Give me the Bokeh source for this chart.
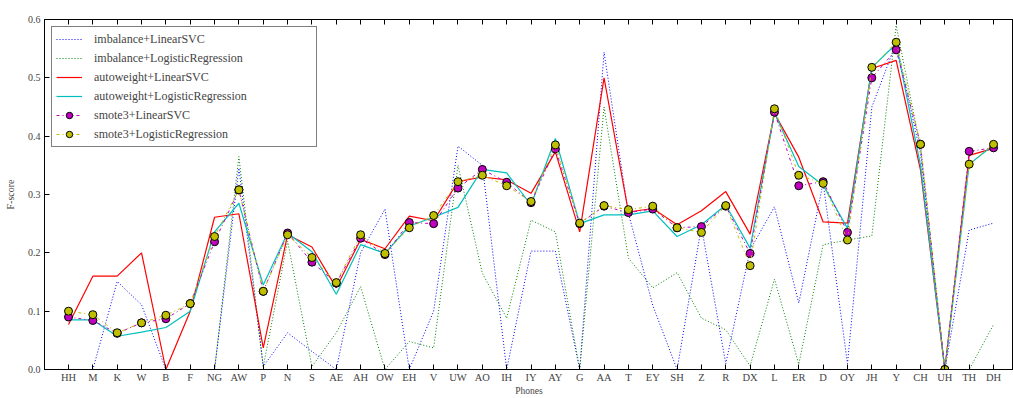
from bokeh.plotting import figure
from bokeh.models import FixedTicker, LinearAxis, Label, Range1d, PrintfTickFormatter
from bokeh.embed import file_html
from bokeh.resources import INLINE

phones = ["HH", "M", "K", "W", "B", "F", "NG", "AW", "P", "N", "S", "AE", "AH", "OW",
          "EH", "V", "UW", "AO", "IH", "IY", "AY", "G", "AA", "T", "EY", "SH", "Z", "R",
          "DX", "L", "ER", "D", "OY", "JH", "Y", "CH", "UH", "TH", "DH"]

imbalance_svc = [0.0, 0.0, 0.151, 0.111, 0.0, 0.0, 0.0, 0.345, 0.005, 0.063, 0.031, 0.0, 0.20,
                 0.275, 0.0, 0.10, 0.383, 0.35, 0.0, 0.203, 0.203, 0.0, 0.544, 0.268, 0.11,
                 0.0, 0.245, 0.01, 0.205, 0.279, 0.114, 0.32, 0.01, 0.45, 0.56, 0.37, 0.0,
                 0.239, 0.251]
imbalance_lr = [0.0, 0.0, 0.0, 0.0, 0.0, 0.0, 0.0, 0.365, 0.005, 0.22, 0.005, 0.063, 0.142,
                0.0, 0.048, 0.037, 0.35, 0.165, 0.088, 0.256, 0.236, 0.0, 0.45, 0.191, 0.14,
                0.166, 0.088, 0.068, 0.006, 0.155, 0.009, 0.214, 0.222, 0.229, 0.59, 0.38,
                0.0, 0.0, 0.077]
autoweight_svc = [0.077, 0.16, 0.16, 0.20, 0.0, 0.10, 0.261, 0.267, 0.037, 0.231, 0.21, 0.14,
                  0.223, 0.207, 0.263, 0.255, 0.322, 0.33, 0.325, 0.302, 0.373, 0.236, 0.50,
                  0.27, 0.276, 0.248, 0.272, 0.305, 0.232, 0.439, 0.364, 0.253, 0.251, 0.516,
                  0.53, 0.342, 0.0, 0.367, 0.379]
autoweight_lr = [0.085, 0.085, 0.057, 0.064, 0.072, 0.10, 0.236, 0.285, 0.145, 0.234, 0.202,
                 0.129, 0.214, 0.199, 0.246, 0.261, 0.278, 0.343, 0.337, 0.282, 0.396, 0.25,
                 0.265, 0.265, 0.272, 0.228, 0.248, 0.282, 0.208, 0.44, 0.348, 0.316, 0.242,
                 0.518, 0.558, 0.35, 0.0, 0.352, 0.385]
smote3_svc = [0.09, 0.084, 0.062, 0.08, 0.087, 0.113, 0.219, 0.308, 0.134, 0.234, 0.184, 0.148,
              0.225, 0.197, 0.252, 0.25, 0.311, 0.343, 0.321, 0.286, 0.378, 0.25, 0.28, 0.269,
              0.275, 0.243, 0.245, 0.28, 0.199, 0.441, 0.315, 0.322, 0.235, 0.50, 0.548,
              0.386, 0.0, 0.374, 0.38]
smote3_lr = [0.10, 0.094, 0.063, 0.08, 0.093, 0.113, 0.228, 0.308, 0.134, 0.231, 0.192, 0.149,
             0.231, 0.199, 0.243, 0.264, 0.322, 0.333, 0.315, 0.288, 0.385, 0.251, 0.281,
             0.274, 0.28, 0.243, 0.235, 0.281, 0.178, 0.447, 0.333, 0.319, 0.222, 0.518,
             0.561, 0.386, 0.0, 0.352, 0.386]

y_ticks = [0.0, 0.1, 0.2, 0.3, 0.4, 0.5, 0.6]

x = list(range(len(phones)))
SERIF = "Liberation Serif"

x0, x1 = -0.986, 38.82
p = figure(width=1013, height=398, output_backend="svg", toolbar_location=None,
           x_range=Range1d(x0, x1), y_range=Range1d(0, 0.6),
           min_border_left=44, min_border_right=0, min_border_top=19, min_border_bottom=28,
           background_fill_color="white", border_fill_color="white")
p.xgrid.visible = False
p.ygrid.visible = False
p.outline_line_color = "black"
p.outline_line_width = 1

p.line(x, imbalance_svc, color="#0000ff", line_dash="1 2", line_width=1,
       legend_label="imbalance+LinearSVC")
p.line(x, imbalance_lr, color="#008000", line_dash="1 2", line_width=1,
       legend_label="imbalance+LogisticRegression")
p.line(x, autoweight_svc, color="#ff0000", line_width=1.2,
       legend_label="autoweight+LinearSVC")
p.line(x, autoweight_lr, color="#00bfbf", line_width=1.2,
       legend_label="autoweight+LogisticRegression")
p.line(x, smote3_svc, color="#bf00bf", line_dash="3 3 1 3", line_width=1,
       legend_label="smote3+LinearSVC")
p.scatter(x, smote3_svc, size=8, fill_color="#bf00bf", line_color="black", line_width=1,
          legend_label="smote3+LinearSVC")
p.line(x, smote3_lr, color="#bfbf00", line_dash="3 3 1 3", line_width=1,
       legend_label="smote3+LogisticRegression")
p.scatter(x, smote3_lr, size=8, fill_color="#bfbf00", line_color="black", line_width=1,
          legend_label="smote3+LogisticRegression")

# bottom axis
xa = p.xaxis[0]
xa.ticker = FixedTicker(ticks=x)
xa.major_label_overrides = {i: s for i, s in enumerate(phones)}
xa.major_tick_in = 5
xa.major_tick_out = 0
xa.minor_tick_line_color = None
xa.major_label_text_font = SERIF
xa.major_label_text_font_size = "10.5px"
xa.major_label_standoff = 2
xa.axis_label = "Phones"
xa.axis_label_text_font = SERIF
xa.axis_label_text_font_size = "9.5px"
xa.axis_label_text_font_style = "normal"
xa.axis_label_standoff = 0
xa.axis_line_color = "black"
xa.major_tick_line_color = "black"

# left axis
ya = p.yaxis[0]
ya.ticker = FixedTicker(ticks=y_ticks)
ya.formatter = PrintfTickFormatter(format="%.1f")
ya.major_tick_in = 5
ya.major_tick_out = 0
ya.minor_tick_line_color = None
ya.major_label_text_font = SERIF
ya.major_label_text_font_size = "10px"
ya.major_label_standoff = 4
ya.axis_label = "F-score"
ya.axis_label_text_font = SERIF
ya.axis_label_text_font_size = "10px"
ya.axis_label_text_font_style = "normal"
ya.axis_label_standoff = 9
ya.axis_line_color = "black"
ya.major_tick_line_color = "black"

# top axis with ticks only
ta = LinearAxis(ticker=FixedTicker(ticks=x), major_tick_in=5, major_tick_out=0,
                minor_tick_line_color=None, major_label_standoff=0, axis_line_color="black",
                major_label_overrides={i: "" for i in x})
p.add_layout(ta, "above")

title = Label(x=(x0 + x1) / 2, y=0.6, y_offset=4, text="Performance of different setups on evaluation set",
              text_align="center", text_baseline="bottom", text_font=SERIF,
              text_font_size="11.5px", text_color="black")
p.add_layout(title)

lg = p.legend[0]
lg.location = "top_left"
lg.margin = 7
lg.border_line_color = "black"
lg.border_line_width = 1
lg.background_fill_alpha = 1
lg.label_text_font = SERIF
lg.label_text_font_size = "12px"
lg.glyph_width = 26
lg.glyph_height = 16
lg.label_height = 16
lg.label_width = 218
lg.label_standoff = 12
lg.spacing = 3
lg.padding = 4

open("out.html", "w").write(file_html(p, INLINE))
